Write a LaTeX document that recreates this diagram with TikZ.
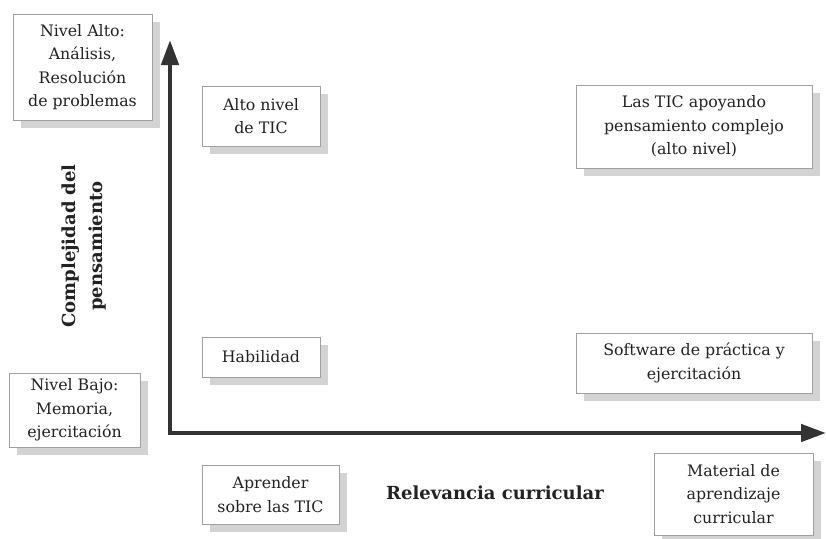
\documentclass[tikz,border=0pt]{standalone}
\usepackage{fontspec}
\setmainfont{DejaVu Serif}
\usepackage{tikz}
\usetikzlibrary{arrows.meta,shadows}
\definecolor{boxline}{RGB}{160,160,160}
\definecolor{shadowgray}{RGB}{211,211,211}
\definecolor{axisgray}{RGB}{51,51,51}
\definecolor{textdark}{RGB}{34,34,34}
\tikzstyle{cuadro} = [rectangle, draw=boxline, line width=0.8pt, fill=white, align=center, text=textdark, font=\fontsize{15.8}{23.5}\selectfont, drop shadow={shadow xshift=8pt, shadow yshift=-8pt, fill=shadowgray, opacity=1}]
\tikzstyle{eje} = [line width=4.5pt, draw=axisgray, {Triangle[length=25pt,width=17pt]}-{Triangle[length=25pt,width=17pt]}]
\tikzstyle{titulo} = [align=center, text=textdark, font=\bfseries\fontsize{18}{27}\selectfont]

\begin{document}
\begin{tikzpicture}[x=1pt,y=-1pt]
\useasboundingbox (0,0) rectangle (826,538);
% ejes
\coordinate (origen) at (170,433);
\coordinate (ytop) at (170,40);
\coordinate (xend) at (826,433);
\draw[eje] (ytop) -- (origen) -- (xend);
% niveles
\node (alto) [cuadro, minimum width=139pt, minimum height=106pt] at (82.5,67) {Nivel Alto:\\ Análisis,\\ Resolución\\ de problemas};
\node (bajo) [cuadro, minimum width=131pt, minimum height=74pt] at (74.5,410) {Nivel Bajo:\\ Memoria,\\ ejercitación};
% cuadrantes
\node (altotic) [cuadro, minimum width=118pt, minimum height=60pt] at (261,116) {Alto nivel\\ de TIC};
\node (apoyo) [cuadro, minimum width=236pt, minimum height=83pt] at (694,126.5) {Las TIC apoyando\\ pensamiento complejo\\ (alto nivel)};
\node (habil) [cuadro, minimum width=118pt, minimum height=40pt] at (261,357) {Habilidad};
\node (soft) [cuadro, minimum width=236pt, minimum height=60pt] at (694,363) {Software de práctica y\\ ejercitación};
\node (aprender) [cuadro, minimum width=137pt, minimum height=59pt] at (270.5,494.5) {Aprender\\ sobre las TIC};
\node (material) [cuadro, minimum width=159pt, minimum height=82pt] at (733.5,494) {Material de\\ aprendizaje\\ curricular};
% titulos de los ejes
\node (relev) [titulo] at (495,493) {Relevancia curricular};
\node (compl) [titulo, rotate=90] at (84,246) {Complejidad del\\ pensamiento};
\end{tikzpicture}
\end{document}
